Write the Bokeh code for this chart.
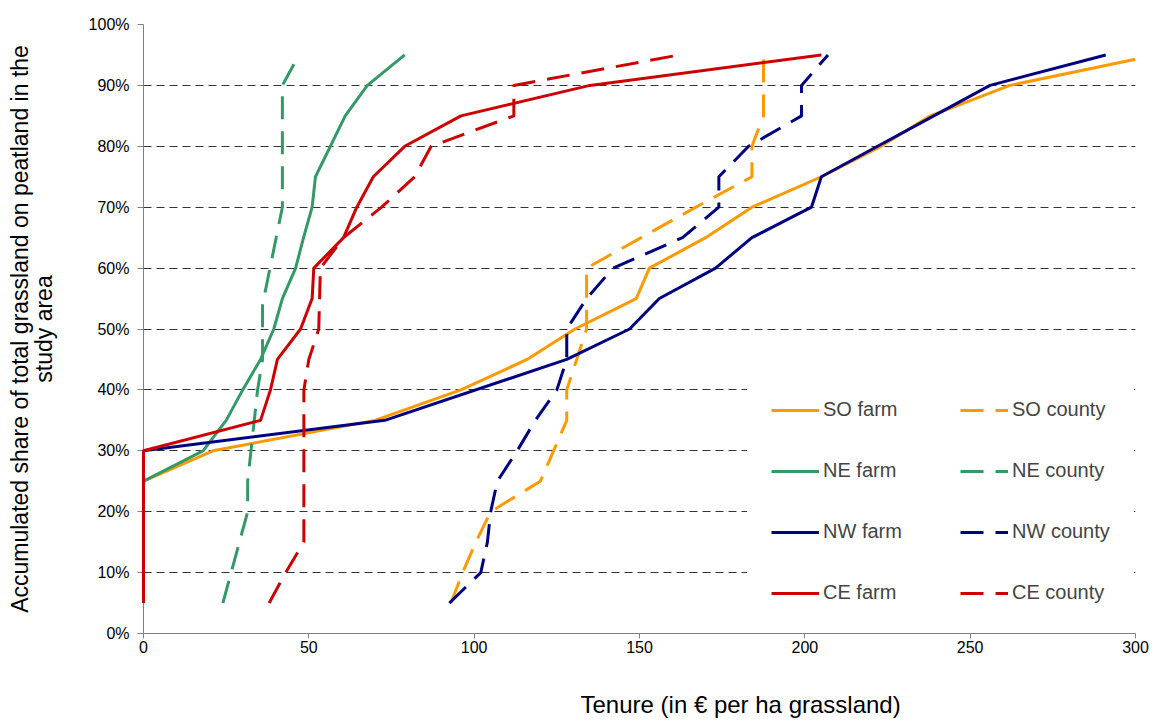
from bokeh.plotting import figure
from bokeh.models import (Range1d, FixedTicker, PrintfTickFormatter, Legend,
                          LegendItem, Title)
from bokeh.embed import file_html
from bokeh.resources import INLINE

# ---- data ----
so_farm_x = [0, 21, 70, 96, 116, 130.5, 149, 153, 170, 184, 205, 223, 238, 262, 300]
so_farm_y = [25, 30, 35, 40, 45, 50, 55, 60, 65, 70, 75, 80, 85, 90, 94.3]
so_county_x = [93, 96.5, 100.5, 105, 120, 124, 128, 128, 134, 134, 150.5, 167, 184, 184, 187.5, 187.5]
so_county_y = [5, 10, 15, 20, 25, 30, 35, 40, 50, 60, 65, 70, 75, 80, 85, 95]

ne_farm_x = [0, 18, 25, 30, 35.4, 39.4, 42, 46, 48.4, 51, 52, 56.5, 61, 67.7, 79]
ne_farm_y = [25, 30, 35, 40, 45, 50, 55, 60, 65, 70, 75, 80, 85, 90, 95]
ne_county_x = [24, 31.5, 31.5, 34.5, 36, 36, 42, 42, 46.3]
ne_county_y = [5, 20, 25, 40, 45, 54, 70, 90, 94.3]

nw_farm_x = [0, 73, 128, 147, 156, 173, 184, 202, 205, 222, 239, 256, 291]
nw_farm_y = [30, 35, 45, 50, 55, 60, 65, 70, 75, 80, 85, 90, 95]
nw_county_x = [92.5, 102, 104, 105, 107, 113, 118.5, 125, 128, 128, 134, 142, 163, 174, 174, 183, 199, 199, 207]
nw_county_y = [5, 10, 15, 20, 25, 30, 35, 40, 45, 50, 55, 60, 65, 70, 75, 80, 85, 90, 95]

ce_farm_x = [0, 0, 35.4, 38.4, 40.5, 47.5, 51, 51.5, 60.5, 64.5, 69.5, 79, 96, 135, 205]
ce_farm_y = [5, 30, 35, 40, 45, 50, 55, 60, 65, 70, 75, 80, 85, 90, 95]
ce_county_x = [38, 43, 48.5, 48.5, 50, 53, 53.5, 60.5, 72, 82, 87, 112, 112, 162]
ce_county_y = [5, 10, 15, 40, 45, 50, 60, 65, 70, 75, 80, 85, 90, 95]

x_ticks = [0, 50, 100, 150, 200, 250, 300]
y_ticks = [0, 10, 20, 30, 40, 50, 60, 70, 80, 90, 100]

x_title = "Tenure (in € per ha grassland)"
y_title_1 = "Accumulated share of total grassland on peatland in the"
y_title_2 = "study area"

series = [
    ("SO farm", so_farm_x, so_farm_y, "#FF9900", "solid"),
    ("SO county", so_county_x, so_county_y, "#FF9900", "dashed"),
    ("NE farm", ne_farm_x, ne_farm_y, "#339966", "solid"),
    ("NE county", ne_county_x, ne_county_y, "#339966", "dashed"),
    ("NW farm", nw_farm_x, nw_farm_y, "#000080", "solid"),
    ("NW county", nw_county_x, nw_county_y, "#000080", "dashed"),
    ("CE farm", ce_farm_x, ce_farm_y, "#CC0000", "solid"),
    ("CE county", ce_county_x, ce_county_y, "#CC0000", "dashed"),
]

FONT = "Liberation Sans"

p = figure(width=1155, height=722, output_backend="svg", toolbar_location=None,
           x_range=Range1d(0, 300), y_range=Range1d(0, 100),
           min_border_left=143, min_border_right=20, min_border_top=24,
           min_border_bottom=89)
p.outline_line_color = None
p.background_fill_color = "white"
p.border_fill_color = "white"

# grid
p.xgrid.grid_line_color = None
p.ygrid.ticker = FixedTicker(ticks=y_ticks)
p.ygrid.grid_line_color = "#333333"
p.ygrid.grid_line_dash = "8 5"
p.ygrid.grid_line_width = 1

# axes
p.xaxis.ticker = FixedTicker(ticks=x_ticks)
p.yaxis.ticker = FixedTicker(ticks=y_ticks)
p.yaxis.formatter = PrintfTickFormatter(format="%d%%")
for ax in (p.xaxis[0], p.yaxis[0]):
    ax.axis_line_color = "#808080"
    ax.major_tick_line_color = "#808080"
    ax.minor_tick_line_color = None
    ax.major_label_text_font = FONT
    ax.major_label_text_font_size = "16px"
    ax.major_label_text_color = "black"
    ax.major_tick_in = 0
p.xaxis.major_tick_out = 5
p.yaxis.major_tick_out = 6
p.xaxis.major_label_standoff = 2
p.yaxis.major_label_standoff = 8

p.yaxis.axis_label = y_title_1 + "\n" + y_title_2
p.yaxis.axis_label_text_font = FONT
p.yaxis.axis_label_text_font_size = "23px"
p.yaxis.axis_label_text_font_style = "normal"
p.yaxis.axis_label_text_color = "black"
p.yaxis.axis_label_text_line_height = 0.9
p.yaxis.axis_label_standoff = 29

renderers = {}
for name, xs, ys, col, style in series:
    r = p.line(xs, ys, line_color=col, line_width=3, line_join="round",
               line_dash=("solid" if style == "solid" else "23 12"))
    renderers[name] = r
# the CE farm line runs up the y axis at x = 0 and is drawn above it
renderers["CE farm"].level = "annotation"

common = dict(label_text_font=FONT, label_text_font_size="20px",
              label_height=22, glyph_height=22, glyph_width=48, spacing=38,
              padding=23, margin=0, label_standoff=4,
              background_fill_color="white", background_fill_alpha=1.0,
              border_line_color="white", border_line_width=1)

leg1 = Legend(items=[LegendItem(label=n, renderers=[renderers[n]])
                     for n in ["SO farm", "NE farm", "NW farm", "CE farm"]],
              location=(604, 5), label_width=91, **common)
leg2 = Legend(items=[LegendItem(label=n, renderers=[renderers[n]])
                     for n in ["SO county", "NE county", "NW county", "CE county"]],
              location=(793, 5), **common)
p.add_layout(leg1, "center")
p.add_layout(leg2, "center")

# x axis title (off-centre, as in the reference); leading empty line pushes it down
xt = Title(text="\n" + x_title, align="left", offset=437, standoff=0,
           vertical_align="bottom",
           text_font=FONT, text_font_size="24px", text_font_style="normal",
           text_color="black", text_line_height=1.26)
p.add_layout(xt, "below")

open("out.html", "w").write(file_html(p, INLINE))
